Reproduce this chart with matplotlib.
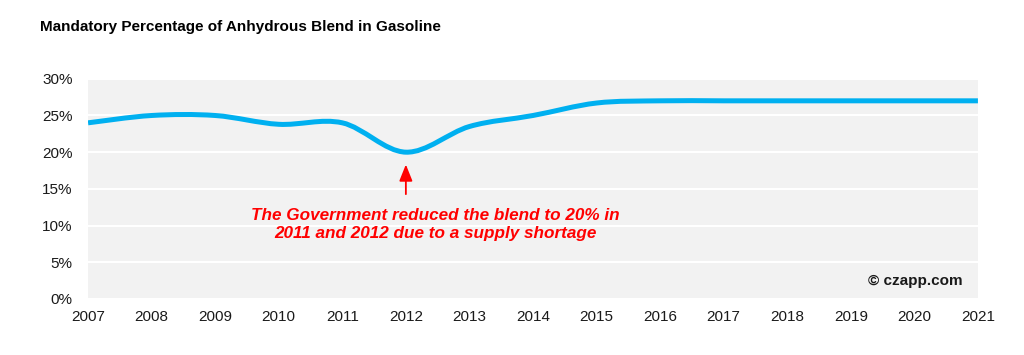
import numpy as np
import matplotlib
matplotlib.use("Agg")
import matplotlib.pyplot as plt
from matplotlib.path import Path
from matplotlib.patches import PathPatch
from matplotlib.ticker import PercentFormatter

plt.rcParams["font.family"] = ["Liberation Sans", "DejaVu Sans"]

years = [2007, 2008, 2009, 2010, 2011, 2012, 2013, 2014, 2015,
         2016, 2017, 2018, 2019, 2020, 2021]
blend = [24.0, 25.0, 25.0, 23.8, 24.0, 20.0, 23.5, 25.0, 26.7,
         27.0, 27.0, 27.0, 27.0, 27.0, 27.0]

TITLE = "Mandatory Percentage of Anhydrous Blend in Gasoline"
NOTE = "The Government reduced the blend to 20% in\n2011 and 2012 due to a supply shortage"
LINE_C = "#00b0f0"


def smooth_path(x, y):
    """Catmull-Rom style bezier through the points (like Excel's smoothed line)."""
    x = np.asarray(x, float)
    y = np.asarray(y, float)
    px = np.r_[x[0], x, x[-1]]
    py = np.r_[y[0], y, y[-1]]
    verts = [(x[0], y[0])]
    codes = [Path.MOVETO]
    for i in range(1, len(px) - 2):
        c1 = (px[i] + (px[i + 1] - px[i - 1]) / 6, py[i] + (py[i + 1] - py[i - 1]) / 6)
        c2 = (px[i + 1] - (px[i + 2] - px[i]) / 6, py[i + 1] - (py[i + 2] - py[i]) / 6)
        verts += [c1, c2, (px[i + 1], py[i + 1])]
        codes += [Path.CURVE4] * 3
    return Path(verts, codes)


fig = plt.figure(figsize=(10.24, 3.55), dpi=100)
ax = fig.add_axes([0.086, 0.158, 0.869, 0.62])
ax.set_facecolor("#f2f2f2")

ax.add_patch(PathPatch(smooth_path(years, blend), fill=False, edgecolor=LINE_C,
                       lw=3.6, capstyle="butt", zorder=3))

ax.set_xlim(2007, 2021)
ax.set_ylim(0, 30)
ax.set_xticks(years)
ax.set_yticks(np.arange(0, 31, 5))
ax.yaxis.set_major_formatter(PercentFormatter(decimals=0))
ax.grid(axis="y", color="white", lw=1.5)
ax.set_axisbelow(True)
for s in ax.spines.values():
    s.set_visible(False)
ax.tick_params(length=0, labelsize=11, colors="#1a1a1a")
ax.tick_params(axis="y", pad=11)
ax.tick_params(axis="x", pad=8)

ax.annotate("", xy=(2012, 18.7), xytext=(2012, 13.9),
            arrowprops=dict(arrowstyle="-|>,head_width=0.4,head_length=1.0",
                            color="red", lw=1.3), zorder=4)
ax.text(2012.47, 10.1, NOTE, color="red", fontsize=12.3, fontweight="bold",
        fontstyle="italic", ha="center", va="center", linespacing=1.25)

ax.text(0.983, 0.08, "\u00a9 czapp.com", transform=ax.transAxes, ha="right",
        va="center", fontsize=11, fontweight="bold", color="#1a1a1a")

fig.text(0.039, 0.925, TITLE, fontsize=11, fontweight="bold", va="center",
         color="black")

fig.savefig("out.png", dpi=100)
